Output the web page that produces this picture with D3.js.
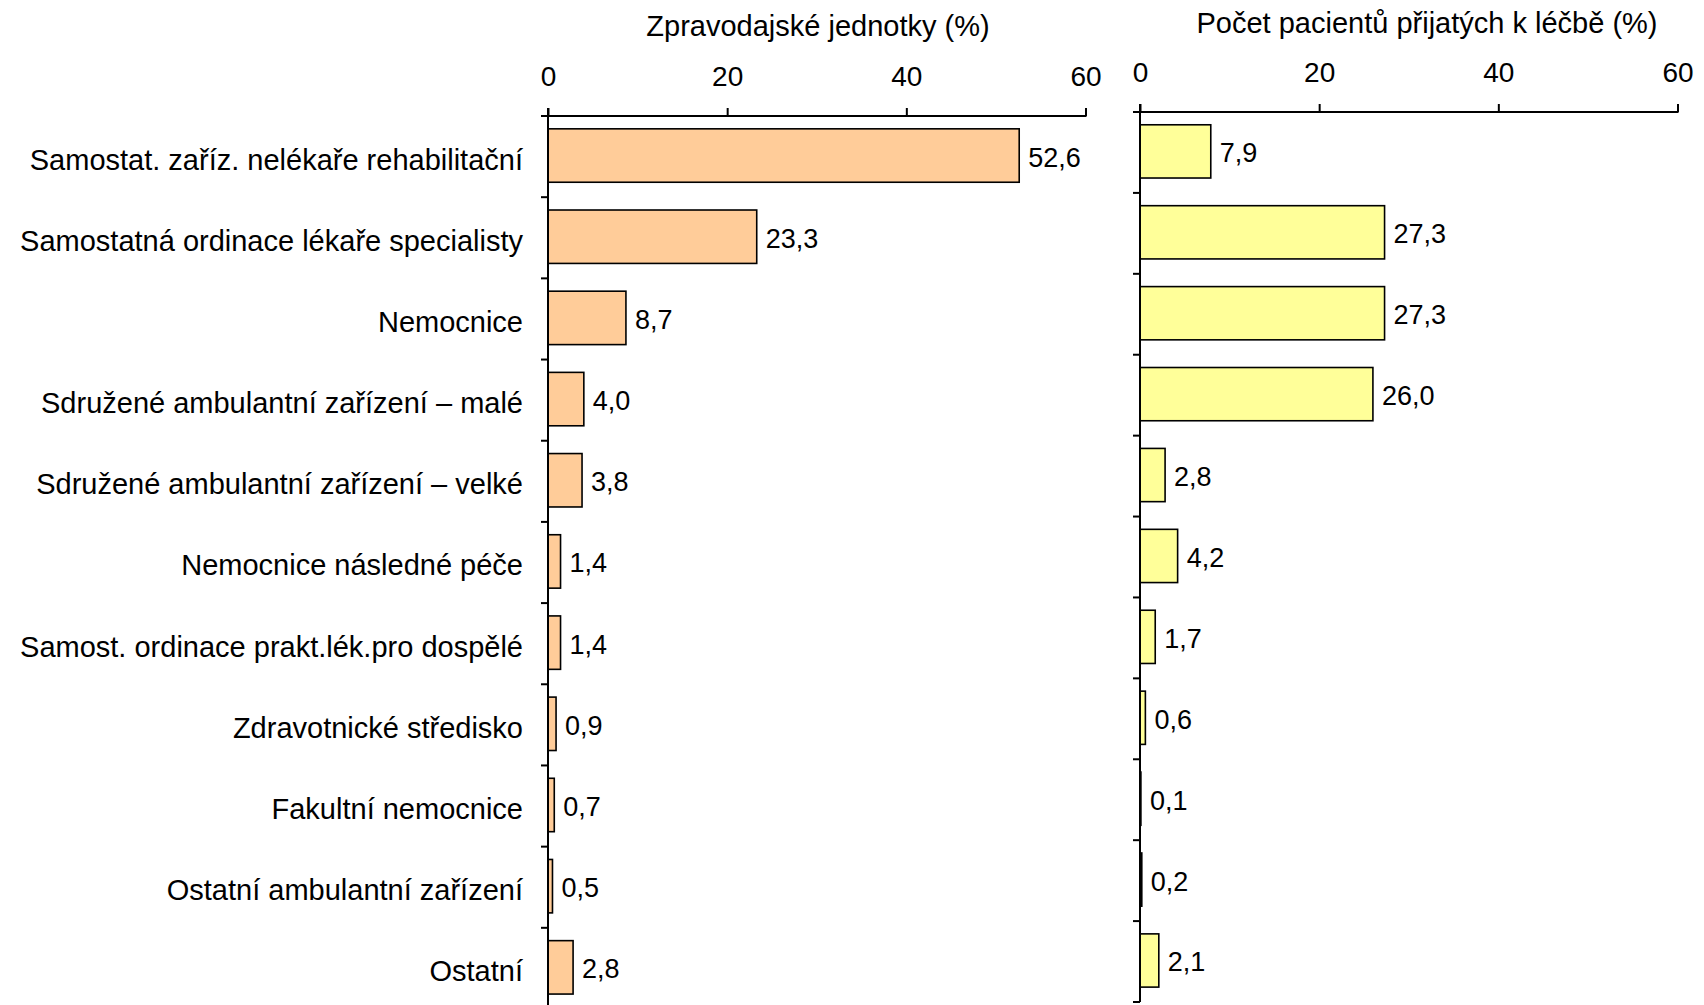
<!DOCTYPE html>
<html><head><meta charset="utf-8">
<script src="https://cdn.jsdelivr.net/npm/d3@7"></script>
<style>body{margin:0;background:#fff}svg{display:block}text{font-family:"Liberation Sans",Arial,sans-serif;fill:#000}</style>
</head><body>
<svg id="c" width="1704" height="1005"></svg>
<script>
const categories = [
  "Samostat. zaříz. nelékaře rehabilitační",
  "Samostatná ordinace lékaře specialisty",
  "Nemocnice",
  "Sdružené ambulantní zařízení – malé",
  "Sdružené ambulantní zařízení – velké",
  "Nemocnice následné péče",
  "Samost. ordinace prakt.lék.pro dospělé",
  "Zdravotnické středisko",
  "Fakultní nemocnice",
  "Ostatní ambulantní zařízení",
  "Ostatní"
];
const unitsValues = [52.6, 23.3, 8.7, 4.0, 3.8, 1.4, 1.4, 0.9, 0.7, 0.5, 2.8];
const patientValues = [7.9, 27.3, 27.3, 26.0, 2.8, 4.2, 1.7, 0.6, 0.1, 0.2, 2.1];
const tickValues = [0, 20, 40, 60];
const titleUnits = "Zpravodajské jednotky (%)";
const titlePatients = "Počet pacientů přijatých k léčbě (%)";

const svg = d3.select("#c");
const fmt = d => d.toFixed(1).replace(".", ",");

function panel(cfg) {
  const g = svg.append("g");
  const x = d3.scaleLinear().domain([0, 60]).range([cfg.x0, cfg.x1]);
  const slot = d3.scaleBand().domain(categories).range([cfg.y0, cfg.y1]).padding(0);
  const step = slot.step();
  const barOff = 0.158, barH = 0.658;
  const barMid = c => slot(c) + step * (barOff + barH / 2);

  // bars
  g.selectAll("rect.bar").data(cfg.values).join("rect")
    .attr("class", "bar")
    .attr("x", x(0))
    .attr("y", (d, i) => slot(categories[i]) + step * barOff)
    .attr("width", d => x(d) - x(0))
    .attr("height", step * barH)
    .attr("fill", cfg.color)
    .attr("stroke", "#000")
    .attr("stroke-width", 1.6);

  // value labels
  g.selectAll("text.val").data(cfg.values).join("text")
    .attr("class", "val")
    .attr("x", d => x(d) + 9)
    .attr("y", (d, i) => barMid(categories[i]) + 11)
    .attr("font-size", 27)
    .text(fmt);

  // top axis
  const ax = g.append("g").attr("transform", `translate(0,${cfg.y0})`)
    .call(d3.axisTop(x).tickValues(tickValues).tickSize(8).tickPadding(22).tickFormat(d3.format("d")));
  ax.select(".domain").remove();
  ax.selectAll(".tick line").attr("stroke", "#000").attr("stroke-width", 2);
  ax.selectAll(".tick text").attr("font-size", 28).attr("font-family", '"Liberation Sans",Arial,sans-serif').attr("fill", "#000");
  g.append("line").attr("x1", x(0) - 7).attr("x2", x(60) + 1).attr("y1", cfg.y0).attr("y2", cfg.y0)
    .attr("stroke", "#000").attr("stroke-width", 2);

  // vertical axis
  g.append("line").attr("x1", x(0)).attr("x2", x(0)).attr("y1", cfg.y0 - 8).attr("y2", cfg.y1)
    .attr("stroke", "#000").attr("stroke-width", 2);
  const bounds = categories.map(c => slot(c) + step);
  g.selectAll("line.yt").data(bounds).join("line").attr("class", "yt")
    .attr("x1", x(0) - 7).attr("x2", x(0)).attr("y1", d => d).attr("y2", d => d)
    .attr("stroke", "#000").attr("stroke-width", 2);

  // title
  g.append("text").attr("x", cfg.titleX).attr("y", cfg.titleY)
    .attr("text-anchor", "middle").attr("font-size", 29).text(cfg.title);

  if (cfg.labels) {
    g.selectAll("text.cat").data(categories).join("text").attr("class", "cat")
      .attr("x", x(0) - 25)
      .attr("y", d => barMid(d) + 14)
      .attr("text-anchor", "end")
      .attr("font-size", 29)
      .text(d => d);
  }
}

panel({x0: 548, x1: 1085.5, y0: 116, y1: 1009, values: unitsValues, color: "#FFCC99", title: titleUnits, titleX: 818, titleY: 36, labels: true});
panel({x0: 1140, x1: 1677.5, y0: 112, y1: 1002, values: patientValues, color: "#FFFF99", title: titlePatients, titleX: 1427, titleY: 33, labels: false});
</script>
</body></html>
